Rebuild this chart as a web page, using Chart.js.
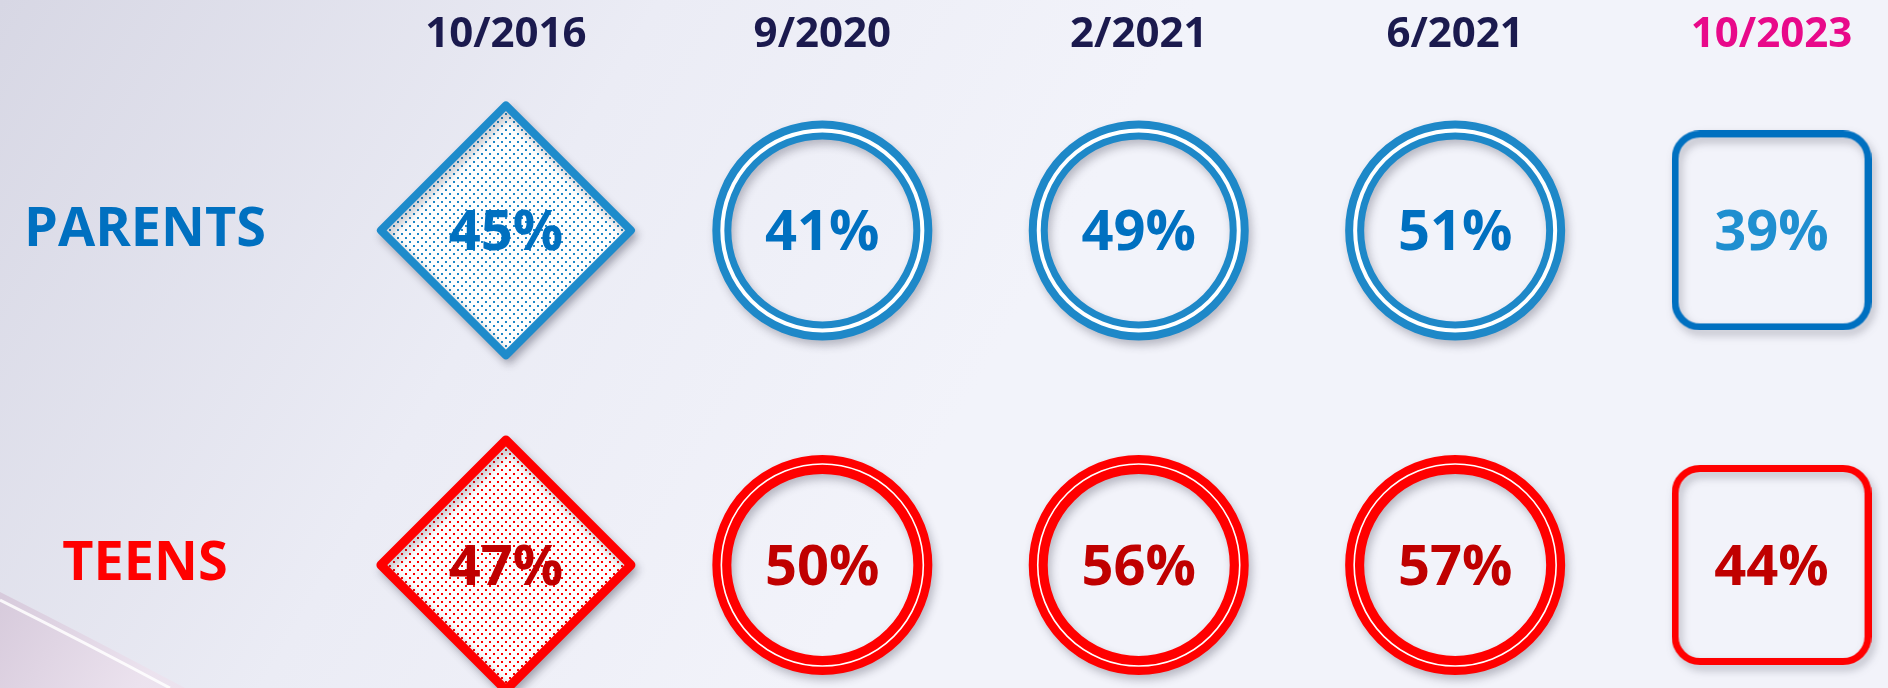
<!DOCTYPE html>
<html>
<head>
<meta charset="utf-8">
<style>
  html, body { margin: 0; padding: 0; background: #F2F3FA; }
  canvas { display: block; }
</style>
</head>
<body>
<canvas id="myChart" width="1888" height="688"></canvas>

<script src="https://cdn.jsdelivr.net/npm/chart.js"></script>
<script>
let surveyDates = ['10/2016', '9/2020', '2/2021', '6/2021', '10/2023'];
let groups = ['PARENTS', 'TEENS'];
let parentValues = [45, 41, 49, 51, 39];
let teenValues = [47, 50, 56, 57, 44];

let FONT = "'Open Sans', 'Noto Sans', sans-serif";
let rowColors = ['#0070C0', '#FF0000'];

let canvas = document.getElementById('myChart');
let ctx = canvas.getContext('2d');

// white fill with small dots, like the office dotted pattern
function dotPattern(color) {
  let tile = document.createElement('canvas');
  tile.width = 8; tile.height = 8;
  let t = tile.getContext('2d');
  t.fillStyle = '#ffffff';
  t.fillRect(0, 0, 8, 8);
  t.fillStyle = color;
  t.fillRect(1, 1, 2, 2);
  t.fillRect(5, 5, 2, 2);
  return ctx.createPattern(tile, 'repeat');
}

// rounded square marker used for the last survey
function roundSquare(color) {
  let c = document.createElement('canvas');
  c.width = 200; c.height = 200;
  let g = c.getContext('2d');
  g.strokeStyle = color;
  g.lineWidth = 7;
  g.beginPath();
  g.roundRect(3.5, 3.5, 193, 193, 25);
  g.stroke();
  return c;
}

let looks = [
  { diamond: '#1E8BCB', ring: '#1E88C8', square: '#0070C0', dots: '#1E88C8',
    text: '#0070C0', lastText: '#1F8FD0', gap: 4, gapR: 100, diamondBorder: 8 },
  { diamond: '#FF0000', ring: '#FF0000', square: '#FF0000', dots: '#FF0000',
    text: '#C00000', lastText: '#C00000', gap: 1.6, gapR: 101, diamondBorder: 9 }
];

function rowDataset(row, values) {
  let c = looks[row];
  return {
    label: groups[row],
    data: values.map((v, i) => ({ x: i, y: row, v: v })),
    pointStyle: ['rectRot', 'circle', 'circle', 'circle', roundSquare(c.square)],
    pointRadius: [125, 100.5, 100.5, 100.5, 100],
    pointBorderWidth: [c.diamondBorder, 19, 19, 19, 0],
    pointBorderColor: [c.diamond, c.ring, c.ring, c.ring, c.square],
    pointBackgroundColor: [dotPattern(c.dots), 'transparent', 'transparent', 'transparent', 'transparent'],
    clip: false,
    look: c
  };
}

let background = {
  id: 'background',
  beforeDraw(chart) {
    let { ctx, width, height } = chart;
    let g = ctx.createLinearGradient(0, 0, 900, 520);
    g.addColorStop(0, '#D7D7E4');
    g.addColorStop(0.55, '#EBECF5');
    g.addColorStop(1, '#F2F3FA');
    ctx.save();
    ctx.fillStyle = g;
    ctx.fillRect(0, 0, width, height);
    // pale swoosh in the lower left corner
    let s = ctx.createLinearGradient(0, 600, 140, 688);
    s.addColorStop(0, 'rgba(214,200,218,0.9)');
    s.addColorStop(1, 'rgba(236,226,238,0.9)');
    ctx.beginPath();
    ctx.moveTo(0, 592);
    ctx.quadraticCurveTo(95, 640, 185, 688);
    ctx.lineTo(0, 688);
    ctx.closePath();
    ctx.fillStyle = s;
    ctx.fill();
    ctx.strokeStyle = 'rgba(255,255,255,0.85)';
    ctx.lineWidth = 3;
    ctx.beginPath();
    ctx.moveTo(0, 600);
    ctx.quadraticCurveTo(90, 645, 170, 688);
    ctx.stroke();
    ctx.restore();
  }
};

let markers = {
  id: 'markers',
  beforeDatasetsDraw(chart) {
    let ctx = chart.ctx;
    ctx.save();
    ctx.lineJoin = 'round';
    ctx.shadowColor = 'rgba(50,50,70,0.3)';
    ctx.shadowBlur = 9;
    ctx.shadowOffsetX = 3;
    ctx.shadowOffsetY = 5;
  },
  afterDatasetsDraw(chart) {
    let ctx = chart.ctx;
    ctx.restore();
    ctx.save();
    chart.data.datasets.forEach((ds, d) => {
      let meta = chart.getDatasetMeta(d);
      meta.data.forEach((pt, i) => {
        if (ds.pointStyle[i] === 'circle') {
          ctx.beginPath();
          ctx.arc(pt.x, pt.y, ds.look.gapR, 0, Math.PI * 2);
          ctx.strokeStyle = '#ffffff';
          ctx.lineWidth = ds.look.gap;
          ctx.stroke();
        }
        ctx.font = 'bold 56px ' + FONT;
        ctx.textAlign = 'center';
        ctx.textBaseline = 'alphabetic';
        ctx.fillStyle = i === surveyDates.length - 1 ? ds.look.lastText : ds.look.text;
        ctx.fillText(ds.data[i].v + '%', pt.x, pt.y + 20);
      });
    });
    ctx.restore();
  }
};

let chart = new Chart(ctx, {
  type: 'scatter',
  data: {
    datasets: [rowDataset(0, parentValues), rowDataset(1, teenValues)]
  },
  options: {
    responsive: false,
    animation: false,
    events: [],
    layout: { autoPadding: false, padding: { top: 10, right: 0, bottom: 0, left: 0 } },
    plugins: { legend: { display: false }, tooltip: { enabled: false } },
    scales: {
      x: {
        type: 'linear',
        position: 'top',
        min: -0.714,
        max: 4.368,
        grid: { display: false, drawTicks: false },
        border: { display: false },
        afterBuildTicks: (s) => { s.ticks = surveyDates.map((_, i) => ({ value: i })); },
        ticks: {
          callback: (v) => surveyDates[v],
          color: (c) => c.index === surveyDates.length - 1 ? '#E8098A' : '#1B1A4E',
          font: { family: FONT, size: 42, weight: 'bold' },
          padding: 0,
          maxRotation: 0,
          autoSkip: false
        }
      },
      y: {
        type: 'linear',
        reverse: true,
        min: -0.508,
        max: 1.229,
        grid: { display: false, drawTicks: false },
        border: { display: false },
        afterBuildTicks: (s) => { s.ticks = groups.map((_, i) => ({ value: i })); },
        afterFit: (s) => { s.width = 280; },
        ticks: {
          callback: (v) => groups[v],
          color: (c) => rowColors[c.index],
          font: { family: FONT, size: 54, weight: 'bold' },
          crossAlign: 'center',
          padding: 14,
          autoSkip: false
        }
      }
    }
  },
  plugins: [background, markers]
});
</script>
</body>
</html>
